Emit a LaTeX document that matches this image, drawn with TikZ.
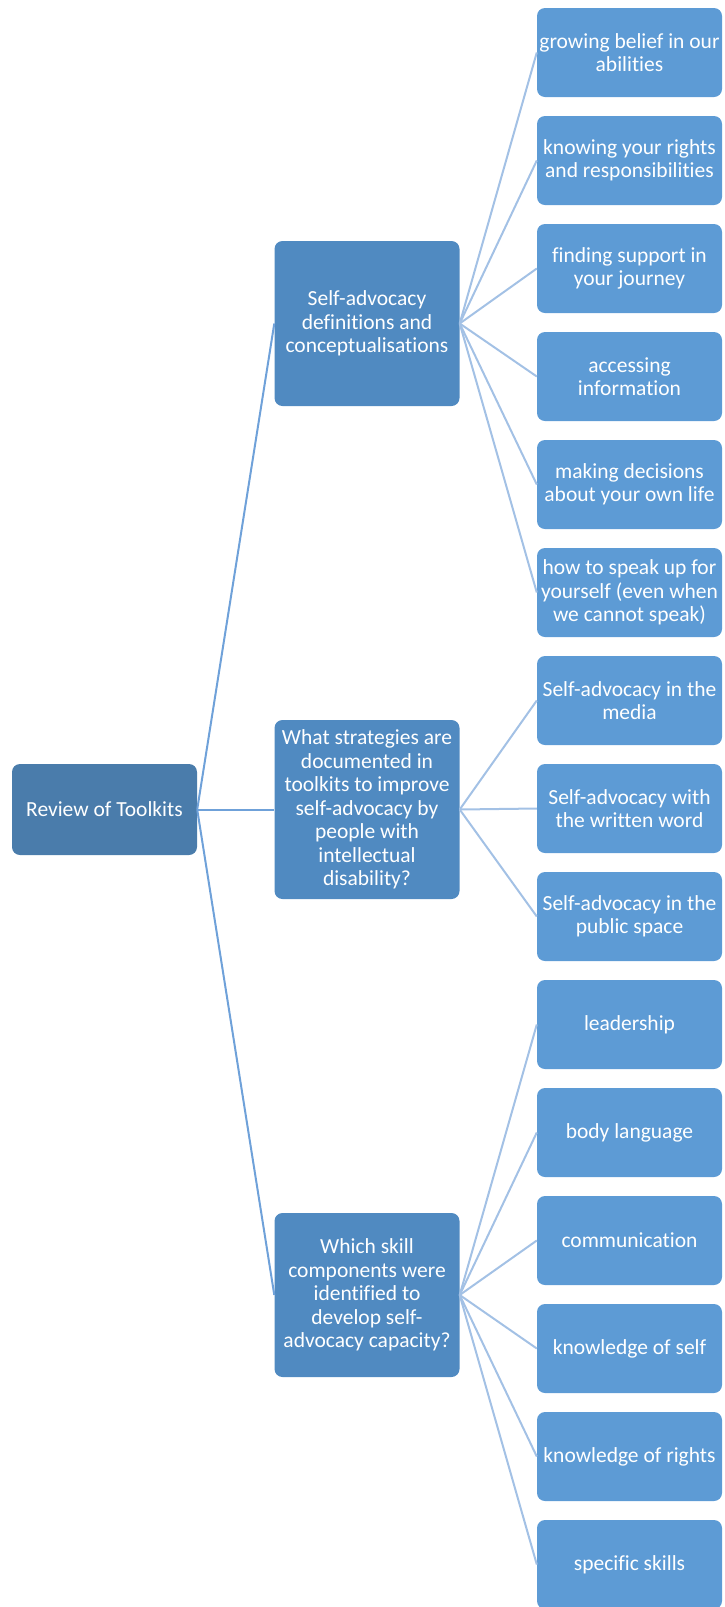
\documentclass[tikz,border=0pt]{standalone}
\usepackage{fontspec}
\setmainfont[Ligatures=NoCommon]{Carlito}

\definecolor{rootblue}{HTML}{4A7CAB}
\definecolor{topicblue}{HTML}{508AC1}
\definecolor{leafblue}{HTML}{5D9BD5}
\definecolor{rootline}{HTML}{6FA1D9}
\definecolor{leafline}{HTML}{A3C1E5}

\tikzset{
	box/.style={rounded corners=8pt, text=white, align=center, minimum width=185pt,
		inner xsep=2pt, inner ysep=4pt, font=\fontsize{21.5}{23.5}\selectfont},
	rootbox/.style={box, fill=rootblue, minimum height=91pt},
	topicbox/.style={box, fill=topicblue},
	leafbox/.style={box, fill=leafblue, minimum height=89pt},
	rootlink/.style={draw=rootline, line width=2pt},
	leaflink/.style={draw=leafline, line width=2pt}
}

\begin{document}
\begin{tikzpicture}[x=1pt, y=-1pt]
	\useasboundingbox (0,0) rectangle (724,1607);

	% root and the three questions
	\node[rootbox] (root) at (104.5,809.5) {Review of Toolkits};
	\node[topicbox, minimum height=165pt] (t1) at (367,323.5)
		{Self-advocacy\\definitions and\\conceptualisations};
	\node[topicbox, minimum height=179pt] (t2) at (367,809.5)
		{What strategies are\\documented in\\toolkits to improve\\self-advocacy by\\people with\\intellectual\\disability?};
	\node[topicbox, minimum height=164pt] (t3) at (367,1295)
		{Which skill\\components were\\identified to\\develop self-\\advocacy capacity?};

	% answers
	\foreach \txt [count=\k] in {
		{growing belief in our\\abilities},
		{knowing your rights\\and responsibilities},
		{finding support in\\your journey},
		{accessing\\information},
		{making decisions\\about your own life},
		{how to speak up for\\yourself (even when\\we cannot speak)},
		{Self-advocacy in the\\media},
		{Self-advocacy with\\the written word},
		{Self-advocacy in the\\public space},
		{leadership},
		{body language},
		{communication},
		{knowledge of self},
		{knowledge of rights},
		{specific skills}}
	{
		\node[leafbox] (l\k) at (629.5,{52.5+108*(\k-1)}) {\txt};
	}

	\foreach \t in {t1,t2,t3}
		\draw[rootlink] (root.east) -- (\t.west);
	\foreach \k in {1,...,6}
		\draw[leaflink] (t1.east) -- (l\k.west);
	\foreach \k in {7,8,9}
		\draw[leaflink] (t2.east) -- (l\k.west);
	\foreach \k in {10,...,15}
		\draw[leaflink] (t3.east) -- (l\k.west);
\end{tikzpicture}
\end{document}
